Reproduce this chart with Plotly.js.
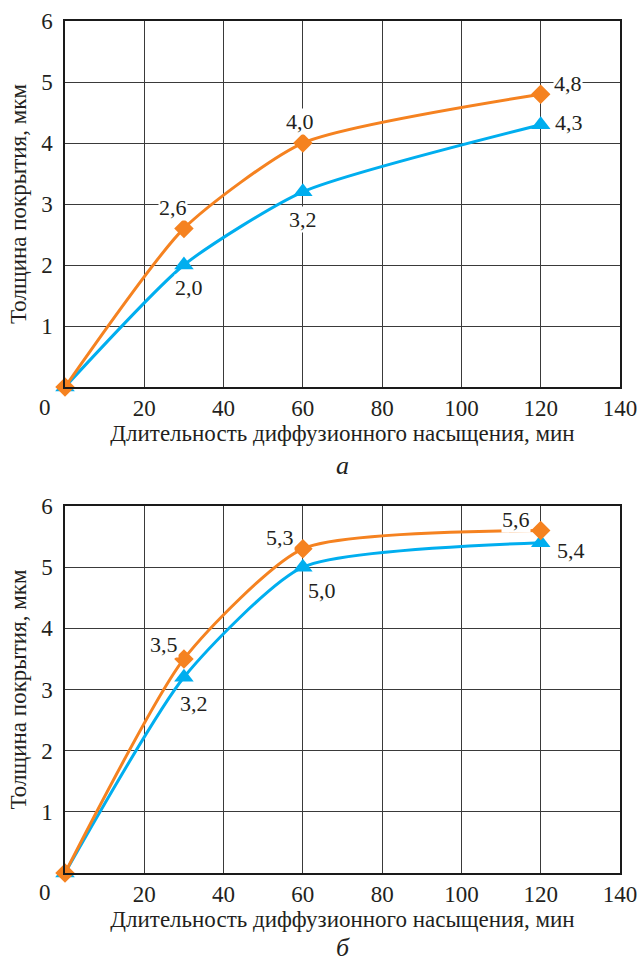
<!DOCTYPE html>
<html>
<head>
<meta charset="utf-8">
<script src="https://cdn.plot.ly/plotly-3.0.1.min.js"></script>
<style>
html,body{margin:0;padding:0;background:#fff}
#chart{width:638px;height:963px}
</style>
</head>
<body>
<div id="chart" style="width:638px;height:963px"></div>
<script>
// ---- data ----
const time = [0, 30, 60, 120];
const orangeA = [0, 2.6, 4.0, 4.8];
const blueA = [0, 2.0, 3.2, 4.3];
const orangeB = [0, 3.5, 5.3, 5.6];
const blueB = [0, 3.2, 5.0, 5.4];
const xTicks = [20, 40, 60, 80, 100, 120, 140];
const yTicks = [1, 2, 3, 4, 5, 6];
const xTitle = 'Длительность диффузионного насыщения, мин';
const yTitle = 'Толщина покрытия, мкм';
const panelLabels = ['а', 'б'];

// ---- style ----
const ORANGE = '#F58220';
const BLUE = '#00AEEF';
const SERIF = 'Times New Roman';
const TXT = '#231F20';

const offOA = [[-11,-21],[-3,-22],[27,-11]];
const offBA = [[5,22],[0,28],[28,-2]];
const offOB = [[-20,-14],[-23,-11],[-25,-11]];
const offBB = [[10,26],[19,23],[30,8]];

function fmt(v){ return v.toFixed(1).replace('.', ','); }

function makeTraces(o, b, xa, ya){
  return [
    {x: time, y: b, xaxis: xa, yaxis: ya, type: 'scatter', mode: 'lines+markers',
     line: {color: BLUE, width: 3, shape: 'spline', smoothing: 0.6},
     marker: {symbol: 'triangle-up', size: 17, color: BLUE}, cliponaxis: false, hoverinfo: 'skip'},
    {x: time, y: o, xaxis: xa, yaxis: ya, type: 'scatter', mode: 'lines+markers',
     line: {color: ORANGE, width: 3, shape: 'spline', smoothing: 0.6},
     marker: {symbol: 'diamond', size: 15, color: ORANGE}, cliponaxis: false, hoverinfo: 'skip'}
  ];
}

function makeLabels(vals, offs, xr, yr){
  const out = [];
  for (let i = 1; i < time.length; i++){
    out.push({x: time[i], y: vals[i], xref: xr, yref: yr, text: fmt(vals[i]),
      showarrow: false, xshift: offs[i-1][0], yshift: -offs[i-1][1],
      bgcolor: '#fff', borderpad: 0,
      font: {family: SERIF, size: 22, color: TXT}});
  }
  return out;
}

const axisX = (anchor) => ({
  anchor: anchor, range: [0, 140], tickvals: xTicks, ticktext: xTicks.map(String),
  showgrid: true, gridcolor: '#3a3a3a', gridwidth: 1, zeroline: false,
  showline: true, mirror: true, linecolor: '#1a1a1a', linewidth: 1.5,
  ticks: '',
  tickfont: {family: SERIF, size: 23, color: TXT},
  title: {text: xTitle, font: {family: SERIF, size: 23, color: TXT}, standoff: 0}
});
const axisY = (anchor, dom) => ({
  anchor: anchor, domain: dom, range: [0, 6], tickvals: yTicks, ticktext: yTicks.map(String),
  showgrid: true, gridcolor: '#3a3a3a', gridwidth: 1, zeroline: false,
  showline: true, mirror: true, linecolor: '#1a1a1a', linewidth: 1.5,
  ticks: 'outside', ticklen: 6, tickcolor: 'rgba(0,0,0,0)',
  tickfont: {family: SERIF, size: 23, color: TXT},
  title: {text: yTitle, font: {family: SERIF, size: 23, color: TXT}, standoff: 8}
});

const figData = [...makeTraces(orangeA, blueA, 'x', 'y'), ...makeTraces(orangeB, blueB, 'x2', 'y2')];

const figAnnotations = [
  ...makeLabels(orangeA, offOA, 'x', 'y'),
  ...makeLabels(blueA, offBA, 'x', 'y'),
  ...makeLabels(orangeB, offOB, 'x2', 'y2'),
  ...makeLabels(blueB, offBB, 'x2', 'y2'),
  {x: 0, y: 0, xref: 'x', yref: 'y', text: '0', showarrow: false, xshift: -20, yshift: -20,
   font: {family: SERIF, size: 23, color: TXT}},
  {x: 0, y: 0, xref: 'x2', yref: 'y2', text: '0', showarrow: false, xshift: -20, yshift: -20,
   font: {family: SERIF, size: 23, color: TXT}},
  {x: 0.5, y: 0.5704, xref: 'paper', yref: 'paper', yanchor: 'middle', yshift: -78, text: '<i>' + panelLabels[0] + '</i>',
   showarrow: false, font: {family: SERIF, size: 26, color: TXT}},
  {x: 0.5, y: 0, xref: 'paper', yref: 'paper', yanchor: 'middle', yshift: -74, text: '<i>' + panelLabels[1] + '</i>',
   showarrow: false, font: {family: SERIF, size: 26, color: TXT}}
];

const figLayout = {
  width: 638, height: 963,
  margin: {l: 65, r: 18, t: 21, b: 90},
  paper_bgcolor: '#fff', plot_bgcolor: '#fff',
  showlegend: false,
  font: {family: SERIF, color: TXT},
  xaxis: axisX('y'),
  yaxis: axisY('x', [0.5704, 1]),
  xaxis2: axisX('y2'),
  yaxis2: axisY('x2', [0, 0.4308]),
  annotations: figAnnotations
};

Plotly.newPlot('chart', figData, figLayout, {displayModeBar: false});
</script>
</body>
</html>
